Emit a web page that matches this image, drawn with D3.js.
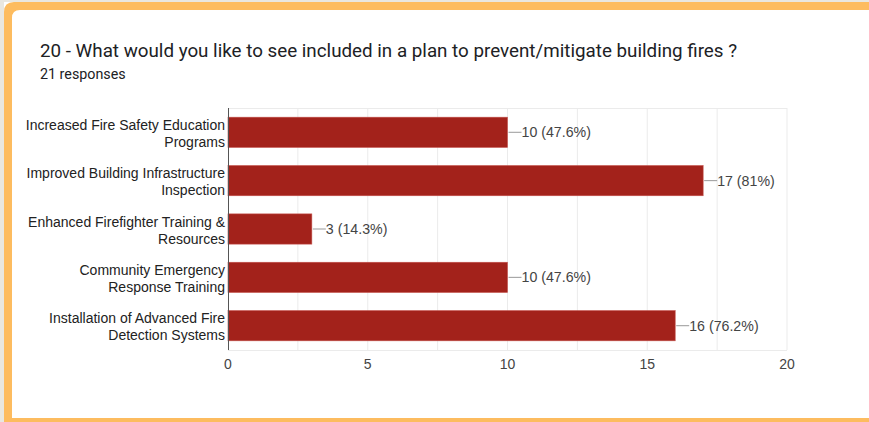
<!DOCTYPE html>
<html>
<head>
<meta charset="utf-8">
<script src="https://cdn.jsdelivr.net/npm/d3@7"></script>
<style>
  html, body { margin: 0; padding: 0; background: #ffffff; overflow: hidden; }
  svg { display: block; }
</style>
</head>
<body>
<script>
const categories = [
  ["Increased Fire Safety Education", "Programs"],
  ["Improved Building Infrastructure", "Inspection"],
  ["Enhanced Firefighter Training &", "Resources"],
  ["Community Emergency", "Response Training"],
  ["Installation of Advanced Fire", "Detection Systems"]
];
const counts = [10, 17, 3, 10, 16];
const percents = ["47.6%", "81%", "14.3%", "47.6%", "76.2%"];
const xTicks = [0, 5, 10, 15, 20];
const gridTicks = [2.5, 5, 7.5, 10, 12.5, 15, 17.5, 20];
const title = "20 - What would you like to see included in a plan to prevent/mitigate building fires ?";
const subtitle = "21 responses";

const width = 869, height = 422;
const plot = { left: 228, right: 787, top: 108, bottom: 350 };

const svg = d3.select("body").append("svg")
  .attr("width", width).attr("height", height);

// page background strips + orange frame on left, top and bottom only
svg.append("rect").attr("x", 0).attr("y", 0).attr("width", width).attr("height", height)
  .attr("fill", "#ffffff");
svg.append("rect").attr("x", 0).attr("y", 0).attr("width", 4).attr("height", height)
  .attr("fill", "#e9e7e0");
svg.append("rect").attr("x", 0).attr("y", 0).attr("width", width).attr("height", 2)
  .attr("fill", "#e9e7e0");
const frame = "M12,418 L12,18 Q12,10 20,10 L" + width + ",10 L" + width + ",2 L14,2 Q4,2 4,12 L4," +
  height + " L" + width + "," + height + " L" + width + ",418 Z";
svg.append("path").attr("d", frame).attr("fill", "#fdbc5f");

svg.append("text").attr("x", 40).attr("y", 57)
  .style("font-family", "Roboto, sans-serif").style("font-size", "18.8px")
  .attr("fill", "#202124").text(title);
svg.append("text").attr("x", 40).attr("y", 79)
  .style("font-family", "Roboto, sans-serif").style("font-size", "14.3px")
  .attr("fill", "#202124").text(subtitle);

const x = d3.scaleLinear().domain([0, 20]).range([plot.left, plot.right]);
const y = d3.scaleBand().domain(d3.range(categories.length))
  .range([plot.top, plot.bottom]).paddingInner(0.375).paddingOuter(0.19);

const font = "Liberation Sans, Arial, sans-serif";

// gridlines
svg.append("g").selectAll("line").data(gridTicks).join("line")
  .attr("x1", (d) => x(d)).attr("x2", (d) => x(d))
  .attr("y1", plot.top).attr("y2", plot.bottom)
  .attr("stroke", "#ebebeb").attr("stroke-width", 1);
[plot.top, plot.bottom].forEach((yy) => {
  svg.append("line").attr("x1", plot.left).attr("x2", plot.right)
    .attr("y1", yy + 0.5).attr("y2", yy + 0.5)
    .attr("stroke", "#ebebeb");
});

// bars
svg.append("g").selectAll("rect").data(counts).join("rect")
  .attr("x", x(0)).attr("y", (d, i) => y(i))
  .attr("width", (d) => x(d) - x(0)).attr("height", y.bandwidth())
  .attr("fill", "#a3221b").attr("stroke", "#c4504a").attr("stroke-width", 0.6);

// value labels with leader lines
const lab = svg.append("g").selectAll("g").data(counts).join("g")
  .attr("transform", (d, i) => `translate(${x(d)},${y(i) + y.bandwidth() / 2})`);
lab.append("line").attr("x1", 1).attr("x2", 14).attr("y1", 0).attr("y2", 0)
  .attr("stroke", "#999").attr("stroke-width", 1);
lab.append("text").attr("x", 14).attr("dy", "0.35em")
  .style("font-family", font).style("font-size", "14.2px").attr("fill", "#444")
  .text((d, i) => `${d} (${percents[i]})`);

// category labels
const cat = svg.append("g").selectAll("text").data(categories).join("text")
  .attr("text-anchor", "end")
  .style("font-family", font).style("font-size", "14px").attr("fill", "#222")
  .attr("transform", (d, i) => `translate(${plot.left - 3},${y(i) + y.bandwidth() / 2})`);
cat.selectAll("tspan").data((d) => d).join("tspan")
  .attr("x", 0).attr("y", (d, j) => j === 0 ? -2.5 : 14.5)
  .text((d) => d);

// axis line at zero
svg.append("line").attr("x1", x(0) + 0.5).attr("x2", x(0) + 0.5)
  .attr("y1", plot.top).attr("y2", plot.bottom)
  .attr("stroke", "#555").attr("stroke-width", 1);

// x tick labels
svg.append("g").selectAll("text").data(xTicks).join("text")
  .attr("x", (d) => x(d)).attr("y", 369).attr("text-anchor", "middle")
  .style("font-family", font).style("font-size", "14px").attr("fill", "#444")
  .text((d) => d);
</script>
</body>
</html>
